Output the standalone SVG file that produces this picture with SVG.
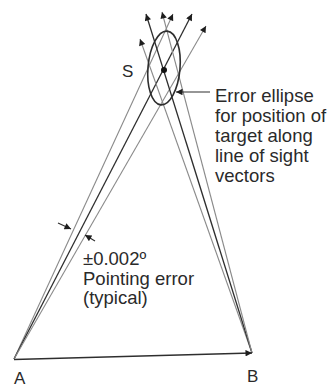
<svg xmlns="http://www.w3.org/2000/svg" width="328" height="387" viewBox="0 0 328 387">
<style>
.t{font-family:"Liberation Sans",Arial,sans-serif;fill:#2a2a2a}
.big{font-size:18.5px}
.lbl{font-size:17px}
.dark{stroke:#2e2e2e;stroke-width:1.3;fill:none}
.grey{stroke:#8a8a8a;stroke-width:1.1;fill:none}
.ptr{stroke:#2e2e2e;stroke-width:1.1;fill:none}
</style>
<defs>
<marker id="ah" viewBox="0 0 10 10" refX="10" refY="5" markerWidth="8" markerHeight="6.5" markerUnits="userSpaceOnUse" orient="auto">
<path d="M0,0 L10,5 L0,10 Z" fill="#1e1e1e"/>
</marker>
</defs>
<rect width="328" height="387" fill="#fff"/>
<g id="connectors">
<line class="grey" x1="14" y1="359" x2="173" y2="14" marker-end="url(#ah)"/>
<line class="dark" x1="14" y1="359" x2="192" y2="14" marker-end="url(#ah)"/>
<line class="grey" x1="14" y1="359" x2="206" y2="26" marker-end="url(#ah)"/>
<line class="grey" x1="252" y1="353" x2="140" y2="39" marker-end="url(#ah)"/>
<line class="dark" x1="252" y1="353" x2="146" y2="14" marker-end="url(#ah)"/>
<line class="grey" x1="252" y1="353" x2="162" y2="12" marker-end="url(#ah)"/>
<line class="dark" x1="14" y1="359.5" x2="252" y2="353" marker-end="url(#ah)"/>
<line class="ptr" x1="210" y1="92" x2="176" y2="92" marker-end="url(#ah)"/>
<line class="ptr" x1="58" y1="223" x2="71" y2="229" marker-end="url(#ah)"/>
<line class="ptr" x1="95" y1="241" x2="85" y2="235" marker-end="url(#ah)"/>
</g>
<g id="ellipse">
<ellipse cx="164" cy="68" rx="16" ry="37" transform="rotate(5 164 68)" fill="none" stroke="#2e2e2e" stroke-width="1.6"/>
<circle cx="164" cy="70" r="3" fill="#111"/>
</g>
<g id="S"><text class="t lbl" x="122" y="77">S</text></g>
<g id="A"><text class="t lbl" x="14" y="384">A</text></g>
<g id="B"><text class="t lbl" x="247" y="382">B</text></g>
<g id="ellipse-label">
<text class="t big" x="215" y="101.5">Error ellipse</text>
<text class="t big" x="215" y="121.5">for position of</text>
<text class="t big" x="215" y="141.5">target along</text>
<text class="t big" x="215" y="161.5">line of sight</text>
<text class="t big" x="215" y="181.5">vectors</text>
</g>
<g id="pointing-label">
<text class="t big" x="83" y="265">±0.002º</text>
<text class="t big" x="83" y="285">Pointing error</text>
<text class="t big" x="83" y="304">(typical)</text>
</g>
</svg>
